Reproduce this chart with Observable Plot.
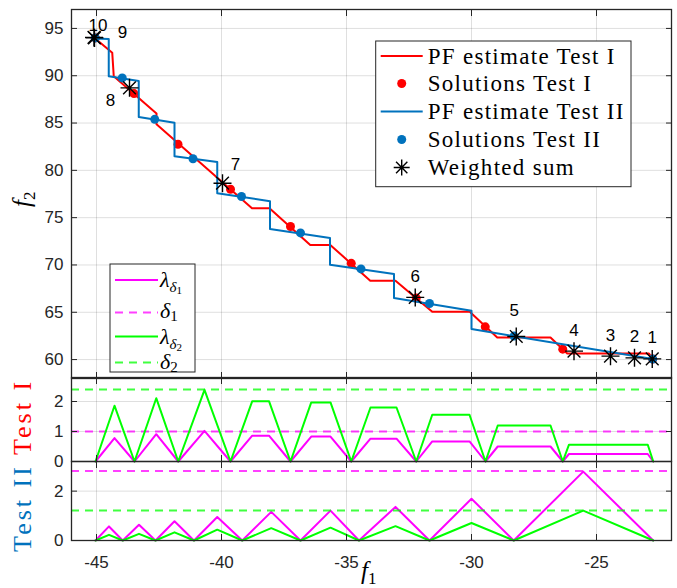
<!DOCTYPE html>
<html><head><meta charset="utf-8">
<script src="https://cdn.jsdelivr.net/npm/d3@7"></script>
<script src="https://cdn.jsdelivr.net/npm/@observablehq/plot@0.6"></script>
<style>
body{margin:0;background:#fff}
#wrap{position:relative;width:677px;height:588px;overflow:hidden;background:#fff}
#wrap svg{position:absolute;left:0;overflow:visible}
</style></head><body><div id="wrap"></div>
<script>
// ---------- data ----------
const xTicks = [-45, -40, -35, -30, -25];
const yTopTicks = [60, 65, 70, 75, 80, 85, 90, 95];
const yMidTicks = [0, 1, 2];
const yBotTicks = [0, 2];

// PF estimate Test I (red)
const pfIf1 = [-45.1, -44.37, -44.31, -42.6, -42.6, -38.78, -38.08, -36.45, -35.65, -34.05, -33.04, -31.57, -30.07, -28.97, -26.84, -26.17, -22.9, -22.75];
const pfIf2 = [94.05, 92.42, 89.95, 86.0, 84.86, 76.0, 76.0, 72.12, 72.12, 68.34, 68.34, 65.05, 65.05, 62.33, 62.33, 60.64, 60.64, 60.05];
// Solutions Test I
const solIf1 = [-45.05, -43.5, -41.74, -39.64, -37.24, -34.81, -32.21, -29.45, -26.35, -22.75];
const solIf2 = [94.0, 88.11, 82.76, 78.0, 74.06, 70.17, 66.5, 63.46, 61.1, 60.05];
// PF estimate Test II (blue)
const pfIIf1 = [-45.1, -44.51, -44.51, -43.31, -43.31, -41.88, -41.88, -40.17, -40.17, -38.06, -38.06, -35.66, -35.66, -33.1, -33.1, -30.0, -30.0, -22.75];
const pfIIf2 = [93.94, 93.87, 89.95, 89.45, 85.64, 85.04, 81.5, 80.87, 77.58, 76.74, 73.81, 72.86, 70.03, 69.05, 66.5, 65.16, 63.22, 60.05];
// Solutions Test II
const solIIf1 = [-45.05, -43.97, -42.67, -41.14, -39.2, -36.84, -34.42, -31.68, -28.3, -22.75];
const solIIf2 = [94.0, 89.77, 85.39, 81.23, 77.24, 73.39, 69.58, 65.93, 62.48, 60.05];
// Weighted sum
const wsN = [1, 2, 3, 4, 5, 6, 7, 8, 9, 10];
const wsF1 = [-22.77, -23.48, -24.44, -25.9, -28.21, -32.25, -39.96, -43.68, -45.08, -45.1];
const wsF2 = [60.07, 60.18, 60.36, 60.89, 62.44, 66.57, 78.64, 88.72, 94.0, 94.05];

// Test I lambdas
const lamIf1 = [-45.04, -44.28, -43.48, -42.61, -41.73, -40.68, -39.64, -38.77, -38.1, -37.24, -36.41, -35.64, -34.81, -34.04, -33.0, -32.21, -31.57, -30.08, -29.44, -28.95, -26.84, -26.35, -26.1, -22.95, -22.73];
const lamId1 = [0, 0.78, 0, 0.91, 0, 1.02, 0, 0.86, 0.86, 0, 0.83, 0.83, 0, 0.76, 0.76, 0, 0.67, 0.67, 0, 0.5, 0.5, 0, 0.25, 0.25, 0];
const lamId2 = [0, 1.86, 0, 2.11, 0, 2.39, 0, 2.01, 2.01, 0, 1.97, 1.97, 0, 1.8, 1.8, 0, 1.56, 1.56, 0, 1.2, 1.2, 0, 0.56, 0.56, 0];
const deltaI = [1.0, 2.4]; // delta1, delta2
// Test II lambdas
const lamIIf1 = [-45.04, -44.5, -43.95, -43.3, -42.64, -41.88, -41.1, -40.17, -39.17, -38.01, -36.84, -35.64, -34.5, -33.04, -31.68, -30.0, -28.31, -25.53, -22.73];
const lamIId1 = [0, 0.57, 0, 0.64, 0, 0.78, 0, 0.95, 0, 1.16, 0, 1.21, 0, 1.36, 0, 1.69, 0, 2.79, 0];
const lamIId2 = [0, 0.23, 0, 0.27, 0, 0.33, 0, 0.44, 0, 0.5, 0, 0.52, 0, 0.58, 0, 0.71, 0, 1.21, 0];
const deltaII = [2.82, 1.22];

// ---------- tables ----------
const pts = (a, b) => a.map((v, i) => ({x: v, y: b[i]}));
const pfI = pts(pfIf1, pfIf2), solI = pts(solIf1, solIf2);
const pfII = pts(pfIIf1, pfIIf2), solII = pts(solIIf1, solIIf2);
const ws = wsN.map((n, i) => ({n, x: wsF1[i], y: wsF2[i]}));
const lI1 = pts(lamIf1, lamId1), lI2 = pts(lamIf1, lamId2);
const lII1 = pts(lamIIf1, lamIId1), lII2 = pts(lamIIf1, lamIId2);

const RED = "#ff0000", BLUE = "#0072bd", MAG = "#ff00ff", GRN = "#00ff00", AX = "#262626";
const asterisk = {
  draw(ctx, size) {
    const r = Math.sqrt(size / Math.PI), d = r * Math.SQRT1_2;
    ctx.moveTo(-r, 0); ctx.lineTo(r, 0);
    ctx.moveTo(0, -r); ctx.lineTo(0, r);
    ctx.moveTo(-d, -d); ctx.lineTo(d, d);
    ctx.moveTo(-d, d); ctx.lineTo(d, -d);
  }
};
const fmt = d => String(d);
const none = () => "";
const grid = {stroke: AX, strokeOpacity: 0.15, strokeWidth: 1};
const common = {
  width: 677, marginLeft: 71, marginRight: 6,
  x: {domain: [-46, -22], label: null},
  style: {background: "transparent", overflow: "visible", fontFamily: "'Liberation Sans', Arial, sans-serif", fontSize: "17px", color: AX}
};
const boxAxes = (yt, xLabels) => [
  Plot.frame({stroke: AX, strokeWidth: 1.3}),
  Plot.axisX(xTicks, {anchor: "top", tickSize: -6, tickFormat: none, label: null, stroke: AX}),
  Plot.axisX(xTicks, {anchor: "bottom", tickSize: -6, tickPadding: 21, tickFormat: xLabels ? fmt : none, label: null, fontSize: 17, fill: AX, stroke: AX}),
  Plot.axisY(yt, {anchor: "left", tickSize: -6, tickPadding: 14, tickFormat: fmt, label: null, fontSize: 17, fill: AX, stroke: AX}),
  Plot.axisY(yt, {anchor: "right", tickSize: -6, tickFormat: none, label: null, stroke: AX})
];

const wrap = document.getElementById("wrap");

// ---------- top panel ----------
const lab = {x: "x", y: "y", text: "n", fontSize: 17, fill: "#000", fontFamily: "'Liberation Sans', Arial, sans-serif"};
const topPlot = Plot.plot({
  ...common, height: 378, marginTop: 9, marginBottom: 0,
  y: {domain: [58, 97], label: null},
  marks: [
    Plot.gridX(xTicks, grid), Plot.gridY(yTopTicks, grid),
    Plot.line(pfI, {x: "x", y: "y", stroke: RED, strokeWidth: 2}),
    Plot.dot(solI, {x: "x", y: "y", r: 4.5, fill: RED}),
    Plot.line(pfII, {x: "x", y: "y", stroke: BLUE, strokeWidth: 2}),
    Plot.dot(solII, {x: "x", y: "y", r: 4.5, fill: BLUE}),
    Plot.dot(ws, {x: "x", y: "y", r: 9, symbol: asterisk, stroke: "#000", fill: "none", strokeWidth: 1.4}),
    Plot.text(ws, {...lab, filter: d => d.n <= 4 || d.n === 6, dy: -21}),
    Plot.text(ws, {...lab, filter: d => d.n === 5, dy: -26, dx: -2}),
    Plot.text(ws, {...lab, filter: d => d.n === 7, dx: 13, dy: -19}),
    Plot.text(ws, {...lab, filter: d => d.n === 8, dx: -19, dy: 13}),
    Plot.text(ws, {...lab, filter: d => d.n === 9, dx: 28, dy: -5}),
    Plot.text(ws, {...lab, filter: d => d.n === 10, dx: 4, dy: -12}),
    ...boxAxes(yTopTicks, false)
  ]
});
topPlot.style.top = "0px";
wrap.appendChild(topPlot);

// ---------- middle panel (Test I) ----------
const dash = "8,6";
const midPlot = Plot.plot({
  ...common, height: 84, marginTop: 0, marginBottom: 0,
  y: {domain: [0, 2.8], label: null},
  marks: [
    Plot.gridX(xTicks, grid), Plot.gridY(yMidTicks, grid),
    Plot.line(lI1, {x: "x", y: "y", stroke: MAG, strokeWidth: 2}),
    Plot.ruleY([deltaI[0]], {stroke: MAG, strokeOpacity: 0.75, strokeWidth: 2, strokeDasharray: dash}),
    Plot.line(lI2, {x: "x", y: "y", stroke: GRN, strokeWidth: 2}),
    Plot.ruleY([deltaI[1]], {stroke: GRN, strokeOpacity: 0.75, strokeWidth: 2, strokeDasharray: dash}),
    ...boxAxes(yMidTicks, false)
  ]
});
midPlot.style.top = "377px";
wrap.appendChild(midPlot);

// ---------- bottom panel (Test II) ----------
const botPlot = Plot.plot({
  ...common, height: 127, marginTop: 0, marginBottom: 48,
  y: {domain: [0, 3.2], label: null},
  marks: [
    Plot.gridX(xTicks, grid), Plot.gridY(yBotTicks, grid),
    Plot.line(lII1, {x: "x", y: "y", stroke: MAG, strokeWidth: 2}),
    Plot.ruleY([deltaII[0]], {stroke: MAG, strokeOpacity: 0.75, strokeWidth: 2, strokeDasharray: dash}),
    Plot.line(lII2, {x: "x", y: "y", stroke: GRN, strokeWidth: 2}),
    Plot.ruleY([deltaII[1]], {stroke: GRN, strokeOpacity: 0.75, strokeWidth: 2, strokeDasharray: dash}),
    ...boxAxes(yBotTicks, true)
  ]
});
botPlot.style.top = "461px";
wrap.appendChild(botPlot);

// ---------- overlay: legends and titles ----------
const ov = d3.select(wrap).append("svg").attr("width", 677).attr("height", 588)
  .style("top", "0px").style("pointer-events", "none");
const serif = "'Liberation Serif', 'Times New Roman', serif";

// legend 1
const L1 = ov.append("g");
L1.append("rect").attr("x", 375.7).attr("y", 41).attr("width", 255.3).attr("height", 145.7)
  .attr("fill", "#fff").attr("stroke", AX).attr("stroke-width", 1);
const l1rows = [
  {t: "PF estimate Test I", kind: "line", c: RED},
  {t: "Solutions Test I", kind: "dot", c: RED},
  {t: "PF estimate Test II", kind: "line", c: BLUE},
  {t: "Solutions Test II", kind: "dot", c: BLUE},
  {t: "Weighted sum", kind: "star", c: "#000"}
];
const l1y = [56, 83.5, 111.5, 139.5, 167.5];
l1rows.forEach((r, i) => {
  const y = l1y[i];
  if (r.kind === "line") L1.append("line").attr("x1", 380.7).attr("x2", 422.7).attr("y1", y).attr("y2", y).attr("stroke", r.c).attr("stroke-width", 2);
  if (r.kind === "dot") L1.append("circle").attr("cx", 401.7).attr("cy", y).attr("r", 4.5).attr("fill", r.c);
  if (r.kind === "star") L1.append("path").attr("transform", `translate(401.7,${y})`)
    .attr("d", d3.symbol(asterisk, Math.PI * 64)()).attr("stroke", "#000").attr("stroke-width", 1.4).attr("fill", "none");
  L1.append("text").attr("x", 427.7).attr("y", y + 7.5).attr("font-family", serif).attr("font-size", 23)
    .attr("letter-spacing", "1.3px").attr("fill", "#000").text(r.t);
});

// legend 2
const L2 = ov.append("g");
L2.append("rect").attr("x", 110).attr("y", 264).attr("width", 85).attr("height", 108)
  .attr("fill", "#fff").attr("stroke", AX).attr("stroke-width", 1);
const l2y = [280, 312.5, 336.5, 362.5];
const l2sty = [[MAG, null, 1], [MAG, dash, 0.75], [GRN, null, 1], [GRN, dash, 0.75]];
l2y.forEach((y, i) => {
  L2.append("line").attr("x1", 115).attr("x2", 158).attr("y1", y).attr("y2", y)
    .attr("stroke", l2sty[i][0]).attr("stroke-width", 2).attr("stroke-opacity", l2sty[i][2])
    .attr("stroke-dasharray", l2sty[i][1]);
});
function lamText(y, k) {
  const t = L2.append("text").attr("x", 160).attr("y", y).attr("font-family", serif).attr("fill", "#000");
  t.append("tspan").attr("font-size", 22).attr("font-style", "italic").text("λ");
  t.append("tspan").attr("font-size", 15).attr("font-style", "italic").attr("dy", 5).text("δ");
  t.append("tspan").attr("font-size", 11).attr("dy", 2).text(k);
}
function delText(y, k) {
  const t = L2.append("text").attr("x", 160).attr("y", y).attr("font-family", serif).attr("fill", "#000");
  t.append("tspan").attr("font-size", 22).attr("font-style", "italic").text("δ");
  t.append("tspan").attr("font-size", 15).attr("dy", 3).text(k);
}
lamText(287, "1");
delText(318, "1");
lamText(344, "2");
delText(369, "2");

// axis titles
const f2 = ov.append("text").attr("transform", "translate(30,207) rotate(-90)").attr("font-family", serif).attr("fill", "#000");
f2.append("tspan").attr("font-size", 25).attr("font-style", "italic").text("f");
f2.append("tspan").attr("font-size", 17).attr("dy", 5).text("2");

ov.append("text").attr("transform", "translate(31,417) rotate(-90)").attr("text-anchor", "middle")
  .attr("font-family", serif).attr("font-size", 26).attr("letter-spacing", "3px").attr("fill", RED).text("Test I");
ov.append("text").attr("transform", "translate(31,508) rotate(-90)").attr("text-anchor", "middle")
  .attr("font-family", serif).attr("font-size", 26).attr("letter-spacing", "3px").attr("fill", BLUE).text("Test II");

const f1 = ov.append("text").attr("x", 361).attr("y", 579).attr("font-family", serif).attr("fill", "#000");
f1.append("tspan").attr("font-size", 25).attr("font-style", "italic").text("f");
f1.append("tspan").attr("font-size", 17).attr("dy", 5).text("1");
</script></body></html>
